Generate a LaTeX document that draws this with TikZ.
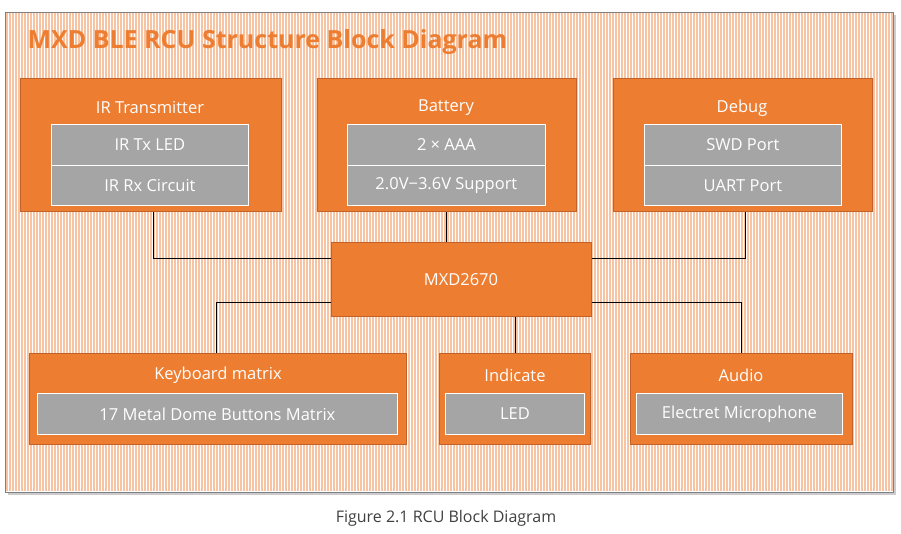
\documentclass[tikz,border=0pt]{standalone}
\usepackage{fontspec}
\setmainfont{Open Sans}
\begin{document}
\begin{tikzpicture}[x=1pt,y=-1pt,
  outer/.style={fill=orangeB,draw=orangeD,line width=0.8pt},
  inner/.style={fill=greyB,draw=white,line width=0.8pt},
  lbl/.style={text=white,font=\fontsize{16.5}{19}\selectfont},
  conn/.style={draw=black,line width=0.7pt}]
\definecolor{orangeB}{HTML}{ED7D31}
\definecolor{orangeD}{HTML}{C0622A}
\definecolor{greyB}{HTML}{A5A5A5}
\definecolor{stripe}{HTML}{F6C4A2}
\useasboundingbox (0,0) rectangle (901,534);
\fill[gray!40] (8,15) rectangle (896,495);
\fill[white] (5,12) rectangle (893,492);
\foreach \i in {0,...,295} {\fill[stripe] (6+\i*3,13) rectangle (7.6+\i*3,491);}
\draw[gray,line width=0.6pt] (5,12) rectangle (893,492);
\node[anchor=west,text=orangeB,font=\bfseries\fontsize{25}{30}\selectfont] (title) at (24,42) {MXD BLE RCU Structure Block Diagram};
% connectors
\coordinate (c1) at (153,258);
\coordinate (c2) at (745,258);
\coordinate (c3) at (216,302);
\coordinate (c4) at (741,302);
% boxes
\node[outer,minimum width=261,minimum height=133,anchor=north west] (ir) at (20,78) {};
\node[outer,minimum width=259,minimum height=133,anchor=north west] (bat) at (317,78) {};
\node[outer,minimum width=259,minimum height=133,anchor=north west] (dbg) at (613,78) {};
\node[outer,minimum width=260,minimum height=74,anchor=north west] (mxd) at (331,242) {};
\node[outer,minimum width=377,minimum height=91,anchor=north west] (kb) at (29,353) {};
\node[outer,minimum width=151,minimum height=91,anchor=north west] (ind) at (439,353) {};
\node[outer,minimum width=222,minimum height=91,anchor=north west] (aud) at (630,353) {};
\draw[conn] (ir.south -| c1) -- (c1) -- (c1 -| mxd.west);
\draw[conn] (bat.south -| 446,0) -- (mxd.north -| 446,0);
\draw[conn] (dbg.south -| c2) -- (c2) -- (c2 -| mxd.east);
\draw[conn] (c3 -| mxd.west) -- (c3) -- (kb.north -| c3);
\draw[conn] (mxd.south -| 515,0) -- (ind.north -| 515,0);
\draw[conn] (mxd.east |- c4) -- (c4) -- (aud.north -| c4);
\node[lbl] (mxdt) at (461,280) {MXD2670};
% inner
\node[inner,minimum width=197,minimum height=41,anchor=north west] (ir1) at (51,124) {};
\node[inner,minimum width=197,minimum height=40,anchor=north west] (ir2) at (51,165) {};
\node[inner,minimum width=198,minimum height=41,anchor=north west] (b1) at (347,124) {};
\node[inner,minimum width=198,minimum height=40,anchor=north west] (b2) at (347,165) {};
\node[inner,minimum width=197,minimum height=41,anchor=north west] (d1) at (644,124) {};
\node[inner,minimum width=197,minimum height=40,anchor=north west] (d2) at (644,165) {};
\node[inner,minimum width=360,minimum height=41,anchor=north west] (k1) at (37,393) {};
\node[inner,minimum width=139,minimum height=41,anchor=north west] (i1) at (445,393) {};
\node[inner,minimum width=206,minimum height=41,anchor=north west] (a1) at (636,393) {};
% labels
\node[lbl] (irt) at (150,108) {IR Transmitter};
\node[lbl] at (ir1) {IR Tx LED};
\node[lbl] at (ir2) {IR Rx Circuit};
\node[lbl] (batt) at (446,108) {Battery};
\node[lbl] at (b1) {2 × AAA};
\node[lbl] at (b2) {2.0V−3.6V Support};
\node[lbl] (dbgt) at (742,108) {Debug};
\node[lbl] at (d1) {SWD Port};
\node[lbl] at (d2) {UART Port};
\node[lbl] (kbt) at (218,375) {Keyboard matrix};
\node[lbl] at (k1) {17 Metal Dome Buttons Matrix};
\node[lbl] (indt) at (515,375) {Indicate};
\node[lbl] at (i1) {LED};
\node[lbl] (audt) at (741,375) {Audio};
\node[lbl] at (a1) {Electret Microphone};
\node[text=black!75,font=\fontsize{16}{19}\selectfont] (cap) at (446,518) {Figure 2.1 RCU Block Diagram};
\end{tikzpicture}
\end{document}
